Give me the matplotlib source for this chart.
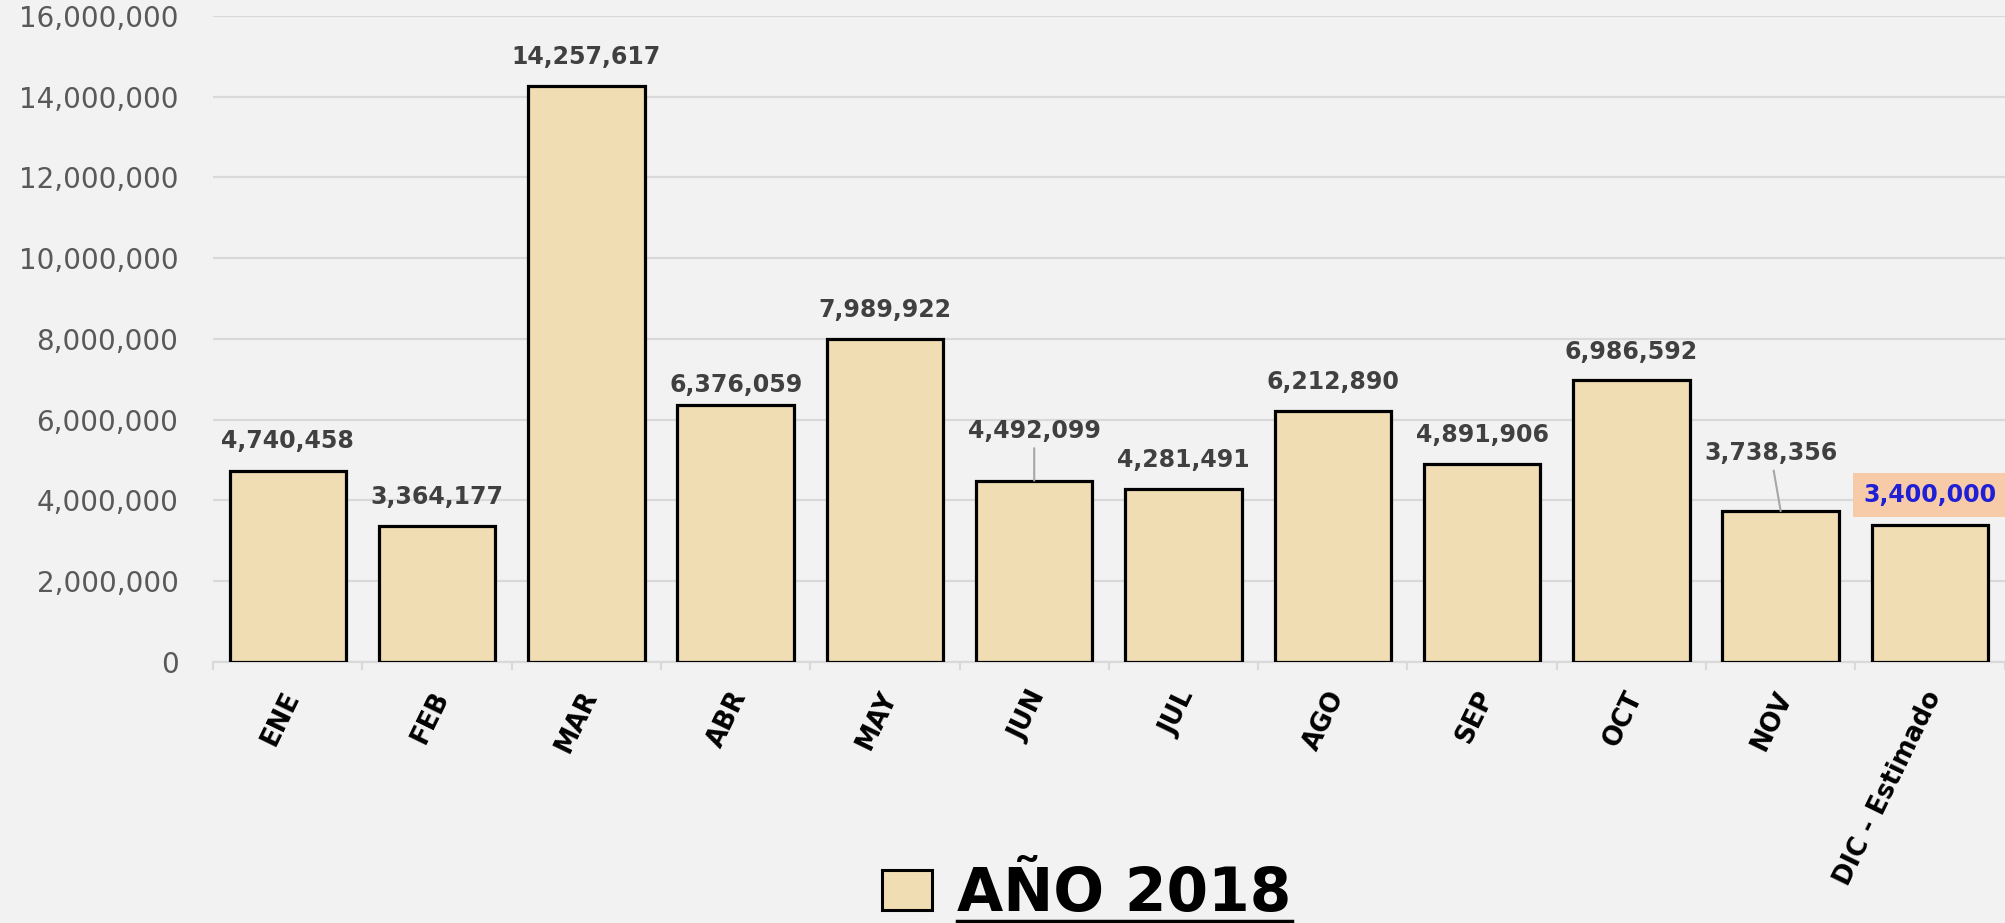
import matplotlib
matplotlib.use("Agg")
import matplotlib.pyplot as plt
from matplotlib.patches import Patch
from matplotlib.lines import Line2D
from matplotlib.ticker import FuncFormatter, FixedLocator
from matplotlib.transforms import ScaledTranslation

meses = ['ENE', 'FEB', 'MAR', 'ABR', 'MAY', 'JUN', 'JUL', 'AGO', 'SEP', 'OCT', 'NOV', 'DIC - Estimado']
valores = [4740458, 3364177, 14257617, 6376059, 7989922, 4492099,
           4281491, 6212890, 4891906, 6986592, 3738356, 3400000]
serie = 'AÑO 2018'

# label offsets (px) relative to the bar top
off_x = [0, 0, 0, 0, 0, 0, 0, 0, 0, 0, -10, 0]
off_y = [30, 29, 29, 20, 29, 50, 29, 29, 29, 28, 58, 30]
guia = [False, False, False, False, False, True, False, False, False, False, True, False]

fondo = '#f2f2f2'
relleno = '#f0ddb3'

fig = plt.figure(figsize=(20.05, 9.23), dpi=100, facecolor=fondo)
ax = fig.add_axes([0.1063, 0.2828, 0.8935, 0.6999], facecolor=fondo)

x = list(range(len(meses)))
ax.bar(x, valores, width=0.78, color=relleno, edgecolor='black', linewidth=2.3, zorder=3)

ax.set_xlim(-0.5, len(meses) - 0.5)
ax.set_ylim(0, 16000000)
ax.set_yticks(range(0, 16000001, 2000000))
ax.yaxis.set_major_formatter(FuncFormatter(lambda v, p: f"{int(v):,}"))
ax.grid(axis='y', color='#d9d9d9', linewidth=1.6)
ax.set_axisbelow(True)

for s in ['top', 'right', 'left']:
    ax.spines[s].set_visible(False)
ax.spines['bottom'].set_color('#d9d9d9')
ax.spines['bottom'].set_linewidth(1.6)

ax.tick_params(axis='y', length=0, pad=25, labelsize=20, labelcolor='#595959')
ax.set_xticks(x)
ax.set_xticklabels(meses, rotation=64, ha='right', va='center', rotation_mode='anchor',
                   fontsize=18.5, fontweight='bold', color='black')
ax.tick_params(axis='x', which='major', length=0, pad=22)
ax.xaxis.set_minor_locator(FixedLocator([i - 0.5 for i in range(len(meses) + 1)]))
ax.tick_params(axis='x', which='minor', length=6, width=1.5, color='#d9d9d9')
for lab in ax.get_xticklabels():
    lab.set_transform(lab.get_transform() + ScaledTranslation(5 / 100, 0, fig.dpi_scale_trans))

for i, v in enumerate(valores):
    ultimo = i == len(valores) - 1
    props = None
    if guia[i]:
        props = dict(arrowstyle='-', color='#a6a6a6', lw=1.5, shrinkA=2, shrinkB=0)
    caja = None
    if ultimo:
        caja = dict(boxstyle='square,pad=0.42', facecolor='#f8cba8', edgecolor='none')
    ax.annotate(f"{v:,}", xy=(i, v), xytext=(off_x[i] * 0.72, off_y[i] * 0.72),
                textcoords='offset points', ha='center', va='center',
                fontsize=17, fontweight='bold',
                color='#1f1fd6' if ultimo else '#404040',
                arrowprops=props, bbox=caja, zorder=4, annotation_clip=False)

leg = fig.legend(handles=[Patch(facecolor=relleno, edgecolor='black', linewidth=2.2, label=serie)],
                 loc='center', bbox_to_anchor=(0.542, 0.031), frameon=False,
                 prop=dict(size=43, weight='bold'), handlelength=0.84, handleheight=0.65,
                 handletextpad=0.42, borderpad=0, borderaxespad=0)

fig.canvas.draw()
bb = leg.get_texts()[0].get_window_extent(fig.canvas.get_renderer())
inv = fig.transFigure.inverted()
(x0, y0), (x1, _) = inv.transform([(bb.x0, bb.y0 + 3), (bb.x1, bb.y0 + 3)])
fig.add_artist(Line2D([x0, x1], [y0, y0], transform=fig.transFigure, color='black', linewidth=2.5))

fig.savefig('out.png', dpi=100, facecolor=fondo)
